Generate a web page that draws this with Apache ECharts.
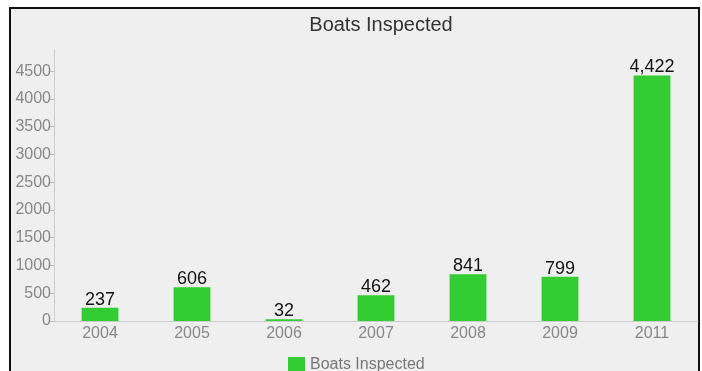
<!DOCTYPE html>
<html><head><meta charset="utf-8">
<script src="https://cdn.jsdelivr.net/npm/echarts@6/dist/echarts.min.js"></script>
<style>
html,body{margin:0;padding:0;background:#fff;width:702px;height:371px;overflow:hidden;}
#frame{position:absolute;left:9px;top:7px;width:687px;height:380px;border:2px solid #111;background:#efefef;}
#c{position:absolute;left:0;top:0;width:702px;height:371px;}
</style></head>
<body>
<div id="frame"></div>
<div id="c"></div>
<script>
const categories = ['2004','2005','2006','2007','2008','2009','2011'];
const boatsInspected = [237, 606, 32, 462, 841, 799, 4422];
const seriesName = 'Boats Inspected';
const chartTitle = 'Boats Inspected';

const chart = echarts.init(document.getElementById('c'), null, {renderer:'canvas'});
chart.setOption({
  backgroundColor: 'transparent',
  animation: false,
  title: {text: chartTitle, left: 376, textAlign: 'center', top: 10,
    textStyle: {fontFamily: 'Liberation Sans, Arial', fontSize: 20, fontWeight: 'normal', color: '#333'}},
  legend: {bottom: -7, left: 283, itemWidth: 17, itemHeight: 16, itemGap: 10,
    icon: 'rect',
    textStyle: {fontFamily: 'Liberation Sans, Arial', fontSize: 16, color: '#777'},
    data: [seriesName]},
  grid: {left: 54, right: 4, top: 50, bottom: 50, containLabel: false},
  xAxis: {type: 'category', data: categories,
    axisLine: {lineStyle: {color: '#ccc'}},
    axisTick: {alignWithLabel: true, lineStyle: {color: '#bbb'}},
    axisLabel: {color: '#888', fontSize: 16, fontFamily: 'Liberation Sans, Arial', margin: 5}},
  yAxis: {type: 'value', min: 0, max: 4880, interval: 500,
    splitLine: {show: false},
    axisLine: {show: true, lineStyle: {color: '#ccc'}},
    axisTick: {show: true, length: 4, lineStyle: {color: '#bbb'}},
    axisLabel: {color: '#888', fontSize: 16, fontFamily: 'Liberation Sans, Arial', margin: 3, showMaxLabel: false,
      formatter: v => String(v)}},
  series: [{
    name: seriesName, type: 'bar', data: boatsInspected, barWidth: '40%',
    itemStyle: {color: '#33cc33'},
    label: {show: true, position: 'top', distance: -1, color: '#111', fontSize: 18,
      fontFamily: 'Liberation Sans, Arial',
      formatter: p => p.value.toLocaleString('en-US')}
  }]
});
</script>
</body></html>
